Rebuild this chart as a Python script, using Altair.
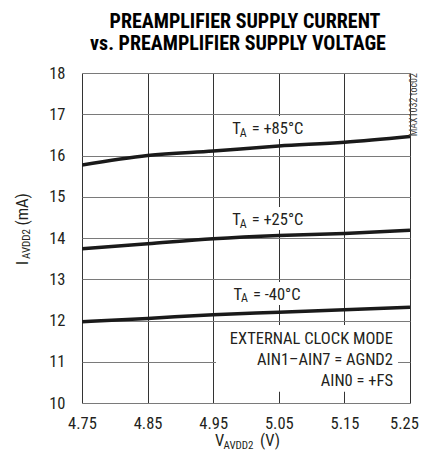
import altair as alt
import pandas as pd

# ---- data ----
volts = [4.75, 4.85, 4.95, 5.05, 5.15, 5.25]
i_p85 = [15.77, 16.00, 16.11, 16.23, 16.32, 16.46]
i_p25 = [13.74, 13.86, 13.98, 14.06, 14.11, 14.19]
i_m40 = [11.97, 12.05, 12.14, 12.20, 12.26, 12.32]
series_names = ["+85°C", "+25°C", "-40°C"]
x_ticks = [4.75, 4.85, 4.95, 5.05, 5.15, 5.25]
y_ticks = [10, 11, 12, 13, 14, 15, 16, 17, 18]

# curve labels (anchor in data units)
label_v = [4.979, 4.979, 4.981]
label_i = [16.52, 14.315, 12.497]
label_rest = ["= +85°C", "= +25°C", "= -40°C"]

# condition note
note_lines = ["EXTERNAL CLOCK MODE", "AIN1\u2013AIN7 = AGND2", "AIN0 = +FS"]
note_v = [5.224, 5.224, 5.224]
note_i = [11.43, 10.92, 10.41]

# white backgrounds behind labels (data units)
box_v1 = [4.9726, 4.9726, 4.9726, 4.9543]
box_v2 = [5.0945, 5.0945, 5.0945, 5.2317]
box_i1 = [16.956, 14.751, 12.933, 11.89]
box_i2 = [16.40, 14.195, 12.377, 10.27]

FONT = "Liberation Sans Narrow, Arial Narrow, Roboto Condensed, sans-serif"
TXT = "#231f20"
FS = 16.5

rows = []
for name, vals in zip(series_names, [i_p85, i_p25, i_m40]):
    for v, c in zip(volts, vals):
        rows.append({"v": v, "i": c, "s": name})
curves = pd.DataFrame(rows)

xs = alt.Scale(domain=[4.75, 5.25], nice=False, zero=False)
ys = alt.Scale(domain=[10, 18], nice=False, zero=False)

xaxis = alt.Axis(values=x_ticks, format=".2f", title=None, grid=True, gridColor="#333333",
                 gridWidth=1, ticks=False, tickSize=0, domain=False, labelFont=FONT,
                 labelFontSize=FS, labelColor=TXT, labelPadding=12, labelFlush=False,
                 labelOverlap=False,
                 labelOffset={"condition": {"test": "datum.value >= 5.249", "value": -6},
                              "value": 0})
yaxis = alt.Axis(values=y_ticks, format="d", title=None, grid=True, gridColor="#7a7a7a",
                 gridWidth=1.2, ticks=False, tickSize=0, domain=False, labelFont=FONT,
                 labelFontSize=FS, labelColor=TXT, labelPadding=17, labelFlush=False,
                 labelOverlap=False)

boxes = alt.Chart(pd.DataFrame({"v1": box_v1, "v2": box_v2, "i1": box_i1, "i2": box_i2})).mark_rect(
    color="white").encode(
    x=alt.X("v1:Q", scale=xs, axis=xaxis), x2="v2:Q",
    y=alt.Y("i1:Q", scale=ys, axis=yaxis), y2="i2:Q")

lines = alt.Chart(curves).mark_line(color="#1a1a1a", strokeWidth=3.5, interpolate="monotone",
                                    clip=True).encode(
    x=alt.X("v:Q", scale=xs), y=alt.Y("i:Q", scale=ys), detail="s:N")

lab_df = pd.DataFrame({"v": label_v, "i": label_i, "rest": label_rest,
                       "T": ["T"] * 3, "A": ["A"] * 3})
lab_T = alt.Chart(lab_df).mark_text(font=FONT, fontSize=FS, color=TXT, align="left",
                                    baseline="alphabetic").encode(
    x=alt.X("v:Q", scale=xs), y=alt.Y("i:Q", scale=ys), text="T:N")
lab_A = alt.Chart(lab_df).mark_text(font=FONT, fontSize=12, color=TXT, align="left",
                                    baseline="alphabetic", dx=7.5, dy=2.5).encode(
    x=alt.X("v:Q", scale=xs), y=alt.Y("i:Q", scale=ys), text="A:N")
lab_R = alt.Chart(lab_df).mark_text(font=FONT, fontSize=FS, color=TXT, align="left",
                                    baseline="alphabetic", dx=19.5).encode(
    x=alt.X("v:Q", scale=xs), y=alt.Y("i:Q", scale=ys), text="rest:N")

note = alt.Chart(pd.DataFrame({"v": note_v, "i": note_i, "t": note_lines})).mark_text(
    font=FONT, fontSize=FS, color=TXT, align="right", baseline="alphabetic").encode(
    x=alt.X("v:Q", scale=xs), y=alt.Y("i:Q", scale=ys), text="t:N")


def ptext(t, x, y, size=FS, angle=0, align="left", baseline="alphabetic", weight="normal",
          color=TXT):
    kw = dict(font=FONT, fontSize=size, color=color, align=align, baseline=baseline,
              fontWeight=weight)
    if angle:
        kw["angle"] = angle
    return alt.Chart(pd.DataFrame({"t": [t]})).mark_text(**kw).encode(
        x=alt.value(x), y=alt.value(y), text="t:N")


texts = [
    ptext("PREAMPLIFIER SUPPLY CURRENT", 163, -45.5, size=20, align="center", weight="bold",
          color="#000000"),
    ptext("vs. PREAMPLIFIER SUPPLY VOLTAGE", 156, -22.8, size=20, align="center",
          weight="bold", color="#000000"),
    # x title
    ptext("V", 133, 373),
    ptext("AVDD2", 141.5, 375.5, size=11),
    ptext("(V)", 178, 373),
    # y title (rotated)
    ptext("I", -54, 192, angle=270),
    ptext("AVDD2", -51.7, 186, size=11, angle=270),
    ptext("(mA)", -54, 152.5, angle=270),
    # figure id
    ptext("MAX1032 toc02", 331.5, 0, size=10, angle=270, align="right", baseline="middle",
          color="#444444"),
]

chart = alt.layer(boxes, lines, lab_T, lab_A, lab_R, note, *texts).properties(
    width=328, height=330,
    autosize=alt.AutoSizeParams(type="none"),
    padding={"left": 74, "top": 65, "right": 9, "bottom": 49},
).configure_view(stroke="#1a1a1a", strokeWidth=3).configure(background="white")

chart.save("out.html", embed_options={"renderer": "svg", "actions": False})
